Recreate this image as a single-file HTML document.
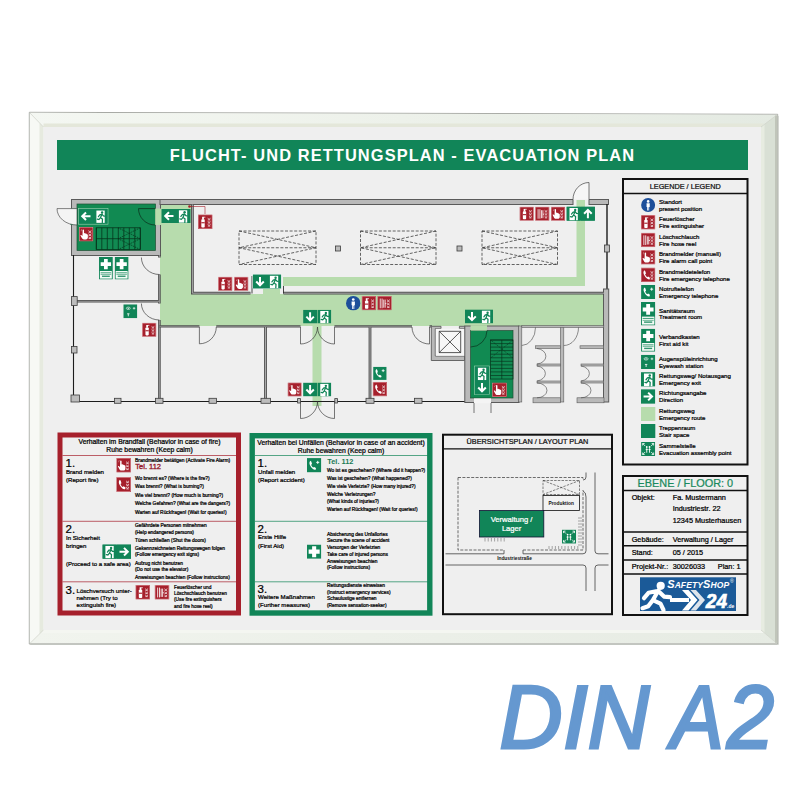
<!DOCTYPE html>
<html><head><meta charset="utf-8"><style>
html,body{margin:0;padding:0;background:#fff;width:800px;height:800px;overflow:hidden}
svg{display:block}
text{font-family:"Liberation Sans",sans-serif}
</style></head><body>
<svg width="800" height="800" viewBox="0 0 800 800">
<defs>
<linearGradient id="gtop" x1="0" y1="0" x2="1" y2="0"><stop offset="0" stop-color="#f4f7f2"/><stop offset="0.5" stop-color="#edf1ea"/><stop offset="1" stop-color="#e4eae2"/></linearGradient>
<linearGradient id="gbot" x1="0" y1="0" x2="1" y2="0"><stop offset="0" stop-color="#f1f4ee"/><stop offset="1" stop-color="#e6ebe3"/></linearGradient>
<symbol id="ext" viewBox="0 0 14 14"><rect width="14" height="14" fill="#a6202c"/><rect x="0.4" y="0.4" width="13.2" height="13.2" fill="none" stroke="#e2a0a6" stroke-width="0.5"/>
<rect x="3.2" y="4.6" width="3.3" height="8" rx="0.8" fill="#fff"/><rect x="3.2" y="7.4" width="3.3" height="1.1" fill="#a6202c"/><rect x="4" y="2.2" width="1.7" height="2.6" fill="#fff"/><path d="M5.5 2.6h1.6" stroke="#fff" stroke-width="0.7"/>
<path d="M9.3 3.6l1.4 1 1.4-1M9.3 6.6l1.4 1 1.4-1M9.3 9.6l1.4 1 1.4-1M9.5 5.2h2.4M9.5 8.2h2.4M9.5 11.2h2.4" stroke="#fff" stroke-width="0.65" fill="none"/></symbol>
<symbol id="hose" viewBox="0 0 14 14"><rect width="14" height="14" fill="#a6202c"/><rect x="0.4" y="0.4" width="13.2" height="13.2" fill="none" stroke="#e2a0a6" stroke-width="0.5"/>
<path d="M2.8 2.5v9.5M4.6 2.5v9.5M6.2 3.5v8M7.6 3.5v8M7.6 7.5h1.2" stroke="#fff" stroke-width="0.8"/>
<path d="M9.3 3.6l1.4 1 1.4-1M9.3 6.6l1.4 1 1.4-1M9.3 9.6l1.4 1 1.4-1M9.5 5.2h2.4M9.5 8.2h2.4M9.5 11.2h2.4" stroke="#fff" stroke-width="0.65" fill="none"/></symbol>
<symbol id="alarm" viewBox="0 0 14 14"><rect width="14" height="14" fill="#a6202c"/><rect x="0.4" y="0.4" width="13.2" height="13.2" fill="none" stroke="#e2a0a6" stroke-width="0.5"/>
<path d="M3.6 5.5v-2.4a0.7 0.7 0 0 1 1.4 0v3.5l0.2-0.6c0.6-0.2 1.2 0 1.3 0.5c0.5-0.2 1.1 0 1.2 0.5c0.5-0.1 1 0.2 1 0.7v2.6c0 1-0.8 1.8-1.8 1.8h-2c-1 0-1.6-0.6-2-1.3l-1.3-2.4c-0.3-0.5 0.4-1 0.9-0.5l0.9 0.9z" fill="#fff"/>
<path d="M2.4 2.2l0.6 0.6M1.9 3.6h0.8" stroke="#fff" stroke-width="0.5"/>
<path d="M9.3 3.6l1.4 1 1.4-1M9.3 6.6l1.4 1 1.4-1M9.3 9.6l1.4 1 1.4-1M9.5 5.2h2.4M9.5 8.2h2.4M9.5 11.2h2.4" stroke="#fff" stroke-width="0.65" fill="none"/></symbol>
<symbol id="fphone" viewBox="0 0 14 14"><rect width="14" height="14" fill="#a6202c"/><rect x="0.4" y="0.4" width="13.2" height="13.2" fill="none" stroke="#e2a0a6" stroke-width="0.5"/>
<path d="M3.5 2.5c-1.5 1-1.5 3 0 5.5s3.5 4 5 3.3l0.3-1.5-1.8-1.2-1 0.7c-0.8-0.5-1.7-1.8-2-2.8l0.9-0.7-0.6-2.2z" fill="#fff"/>
<path d="M9.3 3.6l1.4 1 1.4-1M9.3 6.6l1.4 1 1.4-1M9.3 9.6l1.4 1 1.4-1M9.5 5.2h2.4M9.5 8.2h2.4M9.5 11.2h2.4" stroke="#fff" stroke-width="0.65" fill="none"/></symbol>
<symbol id="ephone" viewBox="0 0 14 14"><rect width="14" height="14" fill="#118558"/>
<path d="M3.5 2.5c-1.5 1-1.5 3 0 5.5s3.5 4 5 3.3l0.3-1.5-1.8-1.2-1 0.7c-0.8-0.5-1.7-1.8-2-2.8l0.9-0.7-0.6-2.2z" fill="#fff"/>
<path d="M9 4.2h3M10.5 2.7v3" stroke="#fff" stroke-width="0.9"/></symbol>
<symbol id="stand" viewBox="0 0 14 14"><circle cx="7" cy="7" r="7" fill="#1d4f9a"/><circle cx="7" cy="3.4" r="1.3" fill="#fff"/><path d="M5.4 5.3h3.2v3.6h-0.6v3.6h-0.8v-3.2h-0.4v3.2h-0.8v-3.6h-0.6z" fill="#fff"/></symbol>
<symbol id="man" viewBox="0 0 14 14"><rect width="14" height="14" fill="#118558"/><rect x="1.3" y="1.3" width="11.4" height="11.4" fill="#fff"/>
<path d="M3 1.3h9.7v11.4H9.6V8.6H3z" fill="#fff"/><rect x="7.8" y="1.3" width="4.9" height="11.4" fill="#fff"/>
<circle cx="6.2" cy="3.3" r="1.1" fill="#118558"/><path d="M5.2 5l1.8-0.6 1.2 1.6 1.3 0.5M6.3 5l-0.8 2.6 1.6 1.2 0.2 2.6M5.6 7.6l-1.1 1.6-1.5 0.2M5.2 5l-1.3 1.4" stroke="#118558" stroke-width="1" fill="none" stroke-linecap="round"/>
</symbol>
<symbol id="firstaid" viewBox="0 0 14 14"><rect width="14" height="14" fill="#118558"/><path d="M5 1.6h4v3.4h3.4v4h-3.4v3.4h-4v-3.4h-3.4v-4h3.4z" fill="#fff"/></symbol>
<symbol id="firstaid2" viewBox="0 0 14 23"><rect width="14" height="23" fill="#118558"/><path d="M5.1 2h3.8v3.4h3.4v3.8h-3.4v3.4h-3.8v-3.4h-3.4v-3.8h3.4z" fill="#fff"/>
<rect x="0.9" y="14.3" width="12.2" height="7.8" fill="#f4fbf6"/><rect x="1.6" y="15.6" width="10.8" height="1.1" fill="#118558" opacity="0.75"/><rect x="1.6" y="17.6" width="10.8" height="0.5" fill="#118558"/><rect x="3" y="19" width="8" height="1.4" fill="#118558" opacity="0.85"/></symbol>
<symbol id="eyewash" viewBox="0 0 14 14"><rect width="14" height="14" fill="#118558"/><ellipse cx="5" cy="4" rx="2" ry="1.2" fill="none" stroke="#fff" stroke-width="0.6"/><circle cx="5" cy="4" r="0.6" fill="#fff"/><path d="M9.5 4h2.5M10.75 2.75v2.5" stroke="#fff" stroke-width="0.7"/><path d="M5 9.5v2.5M3.8 9.5h2.4" stroke="#fff" stroke-width="0.8"/></symbol>
<symbol id="runner" viewBox="0 0 14 14"><rect width="14" height="14" fill="#118558"/><rect x="2.9" y="1.3" width="8.3" height="12.3" fill="#fff"/>
<circle cx="8.6" cy="3.3" r="1.2" fill="#118558"/><path d="M6.3 5.6l2.2-0.7 1.4 1.8 1.3 0.1M8.4 5.1l-1.4 3.3 2 1.5-0.2 3.6M7 8.4l-1.6 1.9-1.6-0.4M6.3 5.6l-1.4 1.8" stroke="#118558" stroke-width="1.25" fill="none" stroke-linecap="round"/>
</symbol>
<symbol id="arrR" viewBox="0 0 14 14"><rect width="14" height="14" fill="#118558"/><path d="M2.5 7h8M7 3.2l3.8 3.8-3.8 3.8" stroke="#fff" stroke-width="2" fill="none"/></symbol>
<symbol id="arrL" viewBox="0 0 14 14"><rect width="14" height="14" fill="#118558"/><path d="M11.5 7h-8M7 3.2l-3.8 3.8 3.8 3.8" stroke="#fff" stroke-width="2" fill="none"/></symbol>
<symbol id="arrD" viewBox="0 0 14 14"><rect width="14" height="14" fill="#118558"/><path d="M7 2.5v8M3.2 7l3.8 3.8 3.8-3.8" stroke="#fff" stroke-width="2" fill="none"/></symbol>
<symbol id="arrU" viewBox="0 0 14 14"><rect width="14" height="14" fill="#118558"/><path d="M7 11.5v-8M3.2 7l3.8-3.8 3.8 3.8" stroke="#fff" stroke-width="2" fill="none"/></symbol>
<symbol id="assembly" viewBox="0 0 14 14"><rect width="14" height="14" fill="#118558"/>
<path d="M1.5 1.5l2.5 2.5M12.5 1.5l-2.5 2.5M1.5 12.5l2.5-2.5M12.5 12.5l-2.5-2.5" stroke="#fff" stroke-width="0.8"/>
<path d="M1.5 1.5h2M1.5 1.5v2M12.5 1.5h-2M12.5 1.5v2M1.5 12.5h2M1.5 12.5v-2M12.5 12.5h-2M12.5 12.5v-2" stroke="#fff" stroke-width="0.8"/>
<circle cx="5.6" cy="5" r="0.9" fill="#fff"/><circle cx="8.4" cy="5" r="0.9" fill="#fff"/><path d="M5.6 6.2v4.5M8.4 6.2v4.5M4.6 7.5h2M7.4 7.5h2" stroke="#fff" stroke-width="0.9"/></symbol>
</defs>
<rect x="0" y="0" width="800" height="800" fill="#fff"/>
<polygon points="30.3,113.3 779,115.3 779,645 30.3,645" fill="#dfe2dc"/>
<polygon points="29.3,112.3 777.7,114.3 777.7,644 29.3,644" fill="#f3f5f1" stroke="#a7a9a4" stroke-width="1"/>
<polygon points="29.8,112.8 777.2,114.8 761,127 43.5,127" fill="url(#gtop)"/>
<polygon points="43.5,123.5 764,123.5 761,127 43.5,127" fill="#e4e7da"/>
<polygon points="777.2,114.8 777.2,643.5 761,630 761,127" fill="#d9e0d5"/>
<polygon points="761,127 764.5,124 764.5,633 761,630" fill="#e7ece1"/>
<polygon points="29.8,643.5 777,643.5 761,630 43.5,630" fill="url(#gbot)"/>
<polygon points="43.5,630 761,630 764,633 40,633" fill="#f4f6f1"/>
<polygon points="29.8,113 43.5,127 43.5,630 29.8,643.5" fill="#f7f9f5"/>
<polygon points="39.5,123 43.5,127 43.5,630 39.5,634" fill="#e6eadf"/>
<line x1="776" y1="115.5" x2="776" y2="643" stroke="#b5b9ae" stroke-width="1.4"/>
<line x1="30" y1="643.6" x2="777" y2="643.6" stroke="#c0c3bd" stroke-width="1"/>
<path d="M777 114.8 L761 127 M777 643.5 L761 630 M29.8 643.5 L43.5 630 M29.8 112.8 L43.5 127" stroke="#c9cdc3" stroke-width="0.6" fill="none"/>
<rect x="43.5" y="127" width="717.5" height="503" fill="#efefef"/>
<rect x="57" y="140" width="691" height="30" fill="#118558"/>
<text x="402.5" y="160.6" font-size="16.4" fill="#fff" text-anchor="middle" font-weight="bold" letter-spacing="1.1">FLUCHT- UND RETTUNGSPLAN - EVACUATION PLAN</text>
<rect x="160" y="204" width="32" height="122" fill="#b7dcad"/>
<rect x="160" y="294" width="444" height="32" fill="#b7dcad"/>
<rect x="283" y="277" width="302" height="9" fill="#b7dcad"/>
<rect x="576.5" y="200" width="8.5" height="86" fill="#b7dcad"/>
<rect x="312.5" y="326" width="9" height="80" fill="#b7dcad"/>
<rect x="263" y="289" width="17" height="6" fill="#b7dcad"/>
<rect x="470.5" y="324" width="16.5" height="8" fill="#b7dcad"/>
<rect x="71.5" y="199.5" width="89" height="56" fill="#b9b9b9" stroke="#5a5a5a" stroke-width="1"/>
<rect x="77" y="204" width="78.5" height="46.5" fill="#118a52" stroke="#1f4f33" stroke-width="0.7"/>
<rect x="70.5" y="208.6" width="7" height="16.4" fill="#118a52"/>
<rect x="155.2" y="208.6" width="6" height="16.4" fill="#b7dcad"/>
<g stroke="#06301a" stroke-width="0.75" fill="none">
<rect x="96.3" y="227.8" width="44" height="21.8"/><line x1="96.3" y1="238.7" x2="140.3" y2="238.7"/>
<line x1="96.3" y1="227.8" x2="96.3" y2="249.6"/>
<line x1="101.8" y1="227.8" x2="101.8" y2="249.6"/>
<line x1="107.3" y1="227.8" x2="107.3" y2="249.6"/>
<line x1="112.8" y1="227.8" x2="112.8" y2="249.6"/>
<line x1="118.3" y1="227.8" x2="118.3" y2="249.6"/>
<line x1="123.8" y1="227.8" x2="123.8" y2="249.6"/>
<line x1="129.3" y1="227.8" x2="129.3" y2="249.6"/>
<line x1="134.8" y1="227.8" x2="134.8" y2="249.6"/>
<line x1="140.3" y1="227.8" x2="140.3" y2="249.6"/>
<path d="M118 227.8l22.3 10.9M118 238.7l22.3 10.9M118 238.7l22.3-10.9M118 249.6l22.3-10.9" stroke-dasharray="1.2 0.9"/>
</g>
<rect x="78.4" y="208.4" width="29.6" height="15.8" fill="#118558" stroke="#9fd3b3" stroke-width="0.6"/>
<use href="#arrL" x="79" y="209" width="14" height="14.5"/>
<use href="#runner" x="93.5" y="209" width="14" height="14.5"/>
<use href="#alarm" x="78.7" y="227" width="14.8" height="14.4"/>
<path d="M77 208.6 L57 208.6 A20 16.4 0 0 0 77 225 Z" fill="#f4f4f4" stroke="#333" stroke-width="0.6"/>
<path d="M155.2 208.6 H138.5 A16.7 16.4 0 0 0 155.2 225" fill="none" stroke="#0a2a18" stroke-width="0.7"/>
<rect x="160" y="199.5" width="413" height="5" fill="#b9b9b9" stroke="#5a5a5a" stroke-width="1"/>
<rect x="589" y="199.5" width="19.5" height="5" fill="#b9b9b9" stroke="#5a5a5a" stroke-width="1"/>
<path d="M573 199.5 A16 17 0 0 1 589 182.5 L589 199.5" fill="#f6f6f6" stroke="#444" stroke-width="0.7"/>
<path d="M607 204 V290" fill="none" stroke="#1c1c1c" stroke-width="1.4"/>
<rect x="604.5" y="245" width="5" height="7" fill="#bcbcbc" stroke="#3c3c3c" stroke-width="0.8"/>
<rect x="603.5" y="289" width="5.2" height="113" fill="#b9b9b9" stroke="#5a5a5a" stroke-width="1"/>
<path d="M192.4 204.5 V293.2 H250.5 M283.5 293.2 H604" fill="none" stroke="#4e4e4e" stroke-width="2.8"/>
<path d="M192.4 204.5 V293.2 H250.5 M283.5 293.2 H604" fill="none" stroke="#a9a9a9" stroke-width="0.9999999999999998"/>
<path d="M252 276 V293.5 M283.5 286 V293.5" fill="none" stroke="#1c1c1c" stroke-width="0.8"/>
<g stroke="#333" stroke-width="0.75" stroke-dasharray="3 1.6" fill="none"><rect x="239" y="231" width="77" height="33.5"/><line x1="239" y1="247.75" x2="316" y2="247.75"/><path d="M239 231 L316 247.75 L239 264.5 M316 231 L239 247.75 L316 264.5"/></g>
<g stroke="#333" stroke-width="0.75" stroke-dasharray="3 1.6" fill="none"><rect x="360.5" y="231" width="75.5" height="33.5"/><line x1="360.5" y1="247.75" x2="436" y2="247.75"/><path d="M360.5 231 L436 247.75 L360.5 264.5 M436 231 L360.5 247.75 L436 264.5"/></g>
<g stroke="#333" stroke-width="0.75" stroke-dasharray="3 1.6" fill="none"><rect x="482" y="231" width="75.5" height="33.5"/><line x1="482" y1="247.75" x2="557.5" y2="247.75"/><path d="M482 231 L557.5 247.75 L482 264.5 M557.5 231 L482 247.75 L557.5 264.5"/></g>
<rect x="335.5" y="246" width="5" height="5" fill="#bcbcbc" stroke="#3c3c3c" stroke-width="0.8"/>
<rect x="457.0" y="246" width="5" height="5" fill="#bcbcbc" stroke="#3c3c3c" stroke-width="0.8"/>
<path d="M73.5 255 V401.5 H470" fill="none" stroke="#1c1c1c" stroke-width="1.1"/>
<path d="M159.4 255 V257.5 M159.4 274.5 V303.5 M159.4 320 V401 M75 301.3 H159.4" fill="none" stroke="#4e4e4e" stroke-width="2.6"/>
<path d="M159.4 255 V257.5 M159.4 274.5 V303.5 M159.4 320 V401 M75 301.3 H159.4" fill="none" stroke="#a9a9a9" stroke-width="0.8"/>
<path d="M141.4 257.5 A18 17 0 0 0 159.4 274.5 M141.4 303.5 A18 16.5 0 0 0 159.4 320" fill="none" stroke="#333" stroke-width="0.65"/>
<path d="M159.4 326.4 H199.4 M216.3 326.4 H300.5 M334.5 326.4 H412 M429.5 326.4 H432" fill="none" stroke="#4e4e4e" stroke-width="2.4"/>
<path d="M159.4 326.4 H199.4 M216.3 326.4 H300.5 M334.5 326.4 H412 M429.5 326.4 H432" fill="none" stroke="#a9a9a9" stroke-width="0.5999999999999999"/>
<path d="M265.5 327 V400 M370 327 V400" fill="none" stroke="#4e4e4e" stroke-width="2.8"/>
<path d="M265.5 327 V400 M370 327 V400" fill="none" stroke="#a9a9a9" stroke-width="0.9999999999999998"/>
<path d="M199.4 327 V343.8 A16.9 16.8 0 0 0 216.3 327" fill="none" stroke="#333" stroke-width="0.65"/>
<path d="M300.5 327 V344 A17 17 0 0 0 317.5 327 M334.5 327 V344 A17 17 0 0 1 317.5 327" fill="none" stroke="#333" stroke-width="0.65"/>
<path d="M300.5 401.5 V418.5 A17 17 0 0 0 317.5 401.5 M334.5 401.5 V418.5 A17 17 0 0 1 317.5 401.5" fill="none" stroke="#333" stroke-width="0.65"/>
<path d="M412 327 A17.5 17 0 0 0 429.5 344 V327" fill="none" stroke="#333" stroke-width="0.65"/>
<rect x="71.4" y="296.6" width="5.8" height="8.8" fill="#bcbcbc" stroke="#3c3c3c" stroke-width="0.8"/>
<rect x="71.4" y="346.5" width="5.6" height="6.5" fill="#bcbcbc" stroke="#3c3c3c" stroke-width="0.8"/>
<rect x="71" y="395" width="8.5" height="7" fill="#bcbcbc" stroke="#3c3c3c" stroke-width="0.8"/>
<rect x="114.5" y="398.3" width="6.5" height="5" fill="#bcbcbc" stroke="#3c3c3c" stroke-width="0.8"/>
<rect x="155.5" y="398.3" width="7.5" height="5" fill="#bcbcbc" stroke="#3c3c3c" stroke-width="0.8"/>
<rect x="261" y="398.3" width="9.5" height="5" fill="#bcbcbc" stroke="#3c3c3c" stroke-width="0.8"/>
<rect x="209" y="398.3" width="7.5" height="5" fill="#bcbcbc" stroke="#3c3c3c" stroke-width="0.8"/>
<rect x="297.6" y="398.6" width="2.8" height="4.4" fill="#bcbcbc" stroke="#3c3c3c" stroke-width="0.8"/>
<rect x="334.8" y="398.6" width="2.8" height="4.4" fill="#bcbcbc" stroke="#3c3c3c" stroke-width="0.8"/>
<rect x="366" y="398.3" width="8" height="5" fill="#bcbcbc" stroke="#3c3c3c" stroke-width="0.8"/>
<rect x="414.5" y="398.3" width="7.5" height="5" fill="#bcbcbc" stroke="#3c3c3c" stroke-width="0.8"/>
<path d="M431.3 326.3 H441 V328.6 H435.3 V356 H464.5 V360.5 H431.3 Z" fill="#b9b9b9" stroke="#5a5a5a" stroke-width="0.9"/>
<path d="M459.4 326.3 H465 V328.6 H459.4 Z" fill="#b9b9b9" stroke="#5a5a5a" stroke-width="0.9"/>
<rect x="435.8" y="328.8" width="28.6" height="27" fill="#f7f7f7"/>
<path d="M439.2 331.3 H460.7 V352.6 H439.2 Z M439.2 331.3 L460.7 352.6 M460.7 331.3 L439.2 352.6" fill="none" stroke="#222" stroke-width="0.75"/>
<rect x="464.8" y="326" width="54.2" height="76.5" fill="#b9b9b9" stroke="#5a5a5a" stroke-width="1"/>
<rect x="470.6" y="330.6" width="42.4" height="67.4" fill="#118a52" stroke="#1f4f33" stroke-width="0.7"/>
<rect x="470.6" y="325.2" width="16.4" height="5.4" fill="#b7dcad"/>
<rect x="474" y="398.4" width="17" height="4.8" fill="#f4f4f4"/>
<path d="M487 330.6 A16.4 16.4 0 0 1 470.6 347" fill="none" stroke="#0a2a18" stroke-width="0.65"/>
<g stroke="#06301a" stroke-width="0.65" fill="none">
<rect x="490.6" y="340" width="22.4" height="39"/><line x1="501.8" y1="340" x2="501.8" y2="379"/>
<line x1="490.6" y1="340.0" x2="513" y2="340.0"/>
<line x1="490.6" y1="343.6" x2="513" y2="343.6"/>
<line x1="490.6" y1="347.1" x2="513" y2="347.1"/>
<line x1="490.6" y1="350.6" x2="513" y2="350.6"/>
<line x1="490.6" y1="354.2" x2="513" y2="354.2"/>
<line x1="490.6" y1="357.8" x2="513" y2="357.8"/>
<line x1="490.6" y1="361.3" x2="513" y2="361.3"/>
<line x1="490.6" y1="364.9" x2="513" y2="364.9"/>
<line x1="490.6" y1="368.4" x2="513" y2="368.4"/>
<line x1="490.6" y1="371.9" x2="513" y2="371.9"/>
<line x1="490.6" y1="375.5" x2="513" y2="375.5"/>
<path d="M490.6 340 L513 358 M513 340 L490.6 358" stroke-dasharray="1.2 0.9"/>
</g>
<rect x="474.6" y="366" width="14.8" height="28.6" fill="#118558" stroke="#9fd3b3" stroke-width="0.6"/>
<use href="#runner" x="475" y="366.5" width="14" height="14"/>
<use href="#arrD" x="475" y="380.5" width="14" height="14"/>
<use href="#alarm" x="492" y="382.6" width="15" height="14.4"/>
<path d="M474 403 V413 M491 403 V413" fill="none" stroke="#333" stroke-width="0.65"/>
<g fill="#b9b9b9" stroke="#5a5a5a" stroke-width="0.6">
<rect x="518.6" y="326" width="3.2" height="76"/>
<rect x="560.4" y="326" width="3.4" height="76"/>
<rect x="535.5" y="345.8" width="25" height="2.6"/><rect x="580" y="345.8" width="23.5" height="2.6"/>
<rect x="537" y="364" width="23.4" height="2"/><rect x="537" y="381" width="23.4" height="2"/>
<rect x="581" y="364" width="22.5" height="2"/><rect x="581" y="381" width="22.5" height="2"/>
<rect x="533" y="397.8" width="27.5" height="5"/><rect x="577" y="397.8" width="27" height="5"/>
<rect x="521.8" y="325.6" width="82" height="1.8"/>
</g>
<g fill="none" stroke="#444" stroke-width="0.6">
<path d="M535.5 327.5 A14 18 0 0 1 521.8 345.5 M578.5 327.5 A14.5 18 0 0 1 563.8 345.5"/>
<path d="M537 348.5 A10 7.8 0 0 1 537 364 M537 366 A10 7.6 0 0 1 537 381 M537 383 A10 7.4 0 0 1 537 397.8"/>
<path d="M581 366 A10 7.6 0 0 1 581 381 M581 383 A10 7.4 0 0 1 581 397.8"/>
</g>
<rect x="161.5" y="209" width="29" height="14" fill="#118558"/>
<use href="#arrL" x="162" y="209" width="14" height="14"/>
<use href="#runner" x="176" y="209" width="14" height="14"/>
<path d="M189.5 206.5 H205 V214" fill="none" stroke="#a6202c" stroke-width="0.6"/><circle cx="189.5" cy="206.5" r="1.3" fill="#a6202c"/>
<use href="#ext" x="198" y="214.5" width="14.5" height="14.5"/>
<use href="#ext" x="218" y="276.8" width="14.5" height="14"/>
<use href="#alarm" x="234" y="276.8" width="14.5" height="14"/>
<rect x="252.8" y="274.5" width="28.4" height="14" fill="#118558" stroke="#fff" stroke-width="0.4"/>
<use href="#arrD" x="253" y="274.5" width="14" height="14"/>
<use href="#runner" x="267" y="274.5" width="14" height="14"/>
<use href="#firstaid2" x="98.75" y="257" width="14.25" height="22.5"/>
<use href="#firstaid2" x="114.5" y="257" width="14.25" height="22.5"/>
<use href="#eyewash" x="123.3" y="304.3" width="14" height="14"/>
<use href="#ext" x="142" y="322.8" width="14.5" height="14"/>
<use href="#stand" x="346" y="296" width="14.5" height="14.5"/>
<use href="#ext" x="361.7" y="296" width="14.3" height="14.3"/>
<use href="#hose" x="377.4" y="296" width="14.3" height="14.3"/>
<use href="#arrD" x="303" y="309.7" width="14.2" height="13.8"/>
<use href="#runner" x="317.2" y="309.7" width="14.2" height="13.8"/>
<use href="#arrD" x="465" y="309.4" width="14" height="14"/>
<use href="#runner" x="479" y="309.4" width="14" height="14"/>
<use href="#alarm" x="287.5" y="382.6" width="14.2" height="13.8"/>
<use href="#arrD" x="303" y="382.6" width="14.2" height="13.8"/>
<use href="#runner" x="317.2" y="382.6" width="14.2" height="13.8"/>
<use href="#ephone" x="372.7" y="366.7" width="14.3" height="13.2"/>
<use href="#fphone" x="372.7" y="381.8" width="14.3" height="14.6"/>
<use href="#ext" x="519.4" y="206.7" width="14.5" height="14"/>
<use href="#hose" x="535" y="206.7" width="14.6" height="14"/>
<use href="#alarm" x="550.8" y="206.7" width="14.5" height="14"/>
<rect x="566.6" y="206.7" width="28.3" height="14" fill="#118558"/>
<use href="#runner" x="566.6" y="206.7" width="14" height="14"/>
<use href="#arrU" x="580.9" y="206.7" width="14" height="14"/>
<rect x="623" y="179" width="124.5" height="285.5" fill="#efefef" stroke="#111" stroke-width="2"/>
<line x1="623" y1="193.5" x2="747.5" y2="193.5" stroke="#111" stroke-width="1.3"/>
<text x="685.2" y="189.3" font-size="7.3" fill="#111" text-anchor="middle" font-weight="normal" stroke="#111" stroke-width="0.24" >LEGENDE / LEGEND</text>
<use href="#stand" x="641" y="198" width="14.3" height="14"/>
<text x="659" y="203.8" font-size="6.1" fill="#000" text-anchor="start" font-weight="normal" stroke="#000" stroke-width="0.24" >Standort</text>
<text x="659" y="210.6" font-size="6.1" fill="#000" text-anchor="start" font-weight="normal" stroke="#000" stroke-width="0.24" >present position</text>
<use href="#ext" x="641" y="215" width="14.3" height="14.5"/>
<text x="659" y="221.1" font-size="6.1" fill="#000" text-anchor="start" font-weight="normal" stroke="#000" stroke-width="0.24" >Feuerlöscher</text>
<text x="659" y="227.8" font-size="6.1" fill="#000" text-anchor="start" font-weight="normal" stroke="#000" stroke-width="0.24" >Fire extinguisher</text>
<use href="#hose" x="641" y="232.7" width="14.3" height="14.5"/>
<text x="659" y="238.8" font-size="6.1" fill="#000" text-anchor="start" font-weight="normal" stroke="#000" stroke-width="0.24" >Löschschlauch</text>
<text x="659" y="245.5" font-size="6.1" fill="#000" text-anchor="start" font-weight="normal" stroke="#000" stroke-width="0.24" >Fire hose reel</text>
<use href="#alarm" x="641" y="250" width="14.3" height="14.5"/>
<text x="659" y="256.1" font-size="6.1" fill="#000" text-anchor="start" font-weight="normal" stroke="#000" stroke-width="0.24" >Brandmelder (manuell)</text>
<text x="659" y="262.9" font-size="6.1" fill="#000" text-anchor="start" font-weight="normal" stroke="#000" stroke-width="0.24" >Fire alarm call point</text>
<use href="#fphone" x="641" y="267.6" width="14.3" height="14.5"/>
<text x="659" y="273.7" font-size="6.1" fill="#000" text-anchor="start" font-weight="normal" stroke="#000" stroke-width="0.24" >Brandmeldetelefon</text>
<text x="659" y="280.5" font-size="6.1" fill="#000" text-anchor="start" font-weight="normal" stroke="#000" stroke-width="0.24" >Fire emergency telephone</text>
<use href="#ephone" x="641" y="285" width="14.3" height="14"/>
<text x="659" y="290.8" font-size="6.1" fill="#000" text-anchor="start" font-weight="normal" stroke="#000" stroke-width="0.24" >Notruftelefon</text>
<text x="659" y="297.6" font-size="6.1" fill="#000" text-anchor="start" font-weight="normal" stroke="#000" stroke-width="0.24" >Emergency telephone</text>
<use href="#firstaid2" x="641" y="302" width="14.3" height="23.5"/>
<text x="659" y="312.6" font-size="6.1" fill="#000" text-anchor="start" font-weight="normal" stroke="#000" stroke-width="0.24" >Sanitätsraum</text>
<text x="659" y="319.4" font-size="6.1" fill="#000" text-anchor="start" font-weight="normal" stroke="#000" stroke-width="0.24" >Treatment room</text>
<use href="#firstaid2" x="641" y="328.7" width="14.3" height="23"/>
<text x="659" y="339.0" font-size="6.1" fill="#000" text-anchor="start" font-weight="normal" stroke="#000" stroke-width="0.24" >Verbandkasten</text>
<text x="659" y="345.8" font-size="6.1" fill="#000" text-anchor="start" font-weight="normal" stroke="#000" stroke-width="0.24" >First aid kit</text>
<use href="#eyewash" x="641" y="354.8" width="14.3" height="14.2"/>
<text x="659" y="360.7" font-size="6.1" fill="#000" text-anchor="start" font-weight="normal" stroke="#000" stroke-width="0.24" >Augenspüleinrichtung</text>
<text x="659" y="367.5" font-size="6.1" fill="#000" text-anchor="start" font-weight="normal" stroke="#000" stroke-width="0.24" >Eyewash station</text>
<use href="#runner" x="641" y="372" width="14.3" height="14.7"/>
<text x="659" y="378.2" font-size="6.1" fill="#000" text-anchor="start" font-weight="normal" stroke="#000" stroke-width="0.24" >Rettungsweg/ Notausgang</text>
<text x="659" y="385.0" font-size="6.1" fill="#000" text-anchor="start" font-weight="normal" stroke="#000" stroke-width="0.24" >Emergency exit</text>
<use href="#arrR" x="641" y="389" width="14.3" height="15"/>
<text x="659" y="395.3" font-size="6.1" fill="#000" text-anchor="start" font-weight="normal" stroke="#000" stroke-width="0.24" >Richtungsangabe</text>
<text x="659" y="402.1" font-size="6.1" fill="#000" text-anchor="start" font-weight="normal" stroke="#000" stroke-width="0.24" >Direction</text>
<rect x="641" y="407" width="14.3" height="14" fill="#b7dcad"/>
<text x="659" y="412.8" font-size="6.1" fill="#000" text-anchor="start" font-weight="normal" stroke="#000" stroke-width="0.24" >Rettungsweg</text>
<text x="659" y="419.6" font-size="6.1" fill="#000" text-anchor="start" font-weight="normal" stroke="#000" stroke-width="0.24" >Emergency route</text>
<rect x="641" y="424" width="14.3" height="14" fill="#118558"/>
<text x="659" y="429.8" font-size="6.1" fill="#000" text-anchor="start" font-weight="normal" stroke="#000" stroke-width="0.24" >Treppenraum</text>
<text x="659" y="436.6" font-size="6.1" fill="#000" text-anchor="start" font-weight="normal" stroke="#000" stroke-width="0.24" >Stair space</text>
<use href="#assembly" x="641" y="442" width="14.3" height="14"/>
<text x="659" y="447.8" font-size="6.1" fill="#000" text-anchor="start" font-weight="normal" stroke="#000" stroke-width="0.24" >Sammelstelle</text>
<text x="659" y="454.6" font-size="6.1" fill="#000" text-anchor="start" font-weight="normal" stroke="#000" stroke-width="0.24" >Evacuation assembly point</text>
<rect x="623" y="476" width="124.5" height="139" fill="#efefef" stroke="#111" stroke-width="2"/>
<line x1="623" y1="490.5" x2="747.5" y2="490.5" stroke="#111" stroke-width="1.6"/>
<line x1="623" y1="532" x2="747.5" y2="532" stroke="#111" stroke-width="1.6"/>
<line x1="623" y1="545.7" x2="747.5" y2="545.7" stroke="#111" stroke-width="1.6"/>
<line x1="623" y1="560" x2="747.5" y2="560" stroke="#111" stroke-width="1.6"/>
<line x1="623" y1="574" x2="747.5" y2="574" stroke="#111" stroke-width="1.6"/>
<text x="685.3" y="486.7" font-size="10.9" fill="#1b8a5e" text-anchor="middle" font-weight="normal" stroke="#1b8a5e" stroke-width="0.24" >EBENE / FLOOR: 0</text>
<text x="631.7" y="499.6" font-size="7.3" fill="#000" text-anchor="start" font-weight="normal" stroke="#000" stroke-width="0.24" >Objekt:</text>
<text x="672.7" y="499.6" font-size="7.3" fill="#000" text-anchor="start" font-weight="normal" stroke="#000" stroke-width="0.24" >Fa. Mustermann</text>
<text x="672.7" y="511.4" font-size="7.3" fill="#000" text-anchor="start" font-weight="normal" stroke="#000" stroke-width="0.24" >Industriestr. 22</text>
<text x="672.7" y="523.4" font-size="7.3" fill="#000" text-anchor="start" font-weight="normal" stroke="#000" stroke-width="0.24" >12345 Musterhausen</text>
<text x="631.7" y="541.5" font-size="7.3" fill="#000" text-anchor="start" font-weight="normal" stroke="#000" stroke-width="0.24" >Gebäude:</text>
<text x="672.7" y="541.5" font-size="7.3" fill="#000" text-anchor="start" font-weight="normal" stroke="#000" stroke-width="0.24" >Verwaltung / Lager</text>
<text x="631.7" y="555.3" font-size="7.3" fill="#000" text-anchor="start" font-weight="normal" stroke="#000" stroke-width="0.24" >Stand:</text>
<text x="672.7" y="555.3" font-size="7.3" fill="#000" text-anchor="start" font-weight="normal" stroke="#000" stroke-width="0.24" >05 / 2015</text>
<text x="631.7" y="569.3" font-size="7.3" fill="#000" text-anchor="start" font-weight="normal" stroke="#000" stroke-width="0.24" >Projekt-Nr.:</text>
<text x="672.7" y="569.3" font-size="7.3" fill="#000" text-anchor="start" font-weight="normal" stroke="#000" stroke-width="0.24" >30026033</text>
<text x="740.5" y="569.3" font-size="7.3" fill="#000" text-anchor="end" font-weight="normal" stroke="#000" stroke-width="0.24" >Plan: 1</text>
<rect x="640" y="577.3" width="96" height="33.7" fill="#1b5a98"/>
<circle cx="660.7" cy="585.8" r="4.1" fill="#fff"/>
<path d="M658.3 590.5 L652.8 600.2 M657.5 591 L648.5 592.8 L644 598.2 M658.5 591.2 L664 596.6 L670 597.2 M652.8 600.2 L660.5 603.6 L663.5 610 M652.8 600.2 L648.2 606.2 L642.5 608.2" fill="none" stroke="#fff" stroke-width="4.2" stroke-linecap="round" stroke-linejoin="round"/>
<path d="M670 598 H689 V602 H670 Z" fill="#fff"/>
<path d="M682 590 H688.5 L697.5 600 L688.5 610.5 H682 L691 600 Z" fill="#fff"/>
<path d="M690.5 590 H696 L705 600 L696 610.5 H690.5 L699.5 600 Z" fill="#dde4ec"/>
<text x="667.2" y="588.3" font-size="8.5" fill="#fff" font-weight="bold" font-style="italic" letter-spacing="0.1"><tspan font-size="11">S</tspan>AFETY<tspan font-size="11">S</tspan>HOP</text>
<text x="731.8" y="583.3" font-size="5.2" fill="#fff" text-anchor="middle" font-weight="normal" >®</text>
<text x="705.8" y="607.8" font-size="20.5" fill="#fff" stroke="#fff" stroke-width="0.7" font-weight="bold" font-style="italic" textLength="21.2" lengthAdjust="spacingAndGlyphs">24</text>
<text x="727" y="607.8" font-size="5" fill="#fff" text-anchor="start" font-weight="bold" >.de</text>
<rect x="60" y="435" width="178.5" height="178" fill="#efefef" stroke="#a6202c" stroke-width="5"/>
<text x="149.5" y="443.8" font-size="6.8" fill="#000" text-anchor="middle" font-weight="normal" stroke="#000" stroke-width="0.24" >Verhalten im Brandfall (Behavior in case of fire)</text>
<text x="149.5" y="452" font-size="6.8" fill="#000" text-anchor="middle" font-weight="normal" stroke="#000" stroke-width="0.24" >Ruhe bewahren (Keep calm)</text>
<line x1="62.5" y1="455.5" x2="236" y2="455.5" stroke="#a6202c" stroke-width="0.7"/>
<line x1="62.5" y1="521.3" x2="236" y2="521.3" stroke="#a6202c" stroke-width="0.7"/>
<line x1="62.5" y1="581.8" x2="236" y2="581.8" stroke="#a6202c" stroke-width="0.7"/>
<text x="65.5" y="466.8" font-size="11.5" fill="#000" text-anchor="start" font-weight="normal" stroke="#000" stroke-width="0.24" >1.</text>
<text x="66" y="473.8" font-size="6.1" fill="#000" text-anchor="start" font-weight="normal" stroke="#000" stroke-width="0.24" >Brand melden</text>
<text x="66" y="481.9" font-size="6.1" fill="#000" text-anchor="start" font-weight="normal" stroke="#000" stroke-width="0.24" >(Report fire)</text>
<use href="#alarm" x="116.3" y="458" width="14.7" height="14.5"/>
<use href="#fphone" x="116.3" y="477" width="14.7" height="15"/>
<text x="135" y="461.5" font-size="4.9" fill="#000" text-anchor="start" font-weight="normal" stroke="#000" stroke-width="0.24" >Brandmelder betätigen (Activate Fire Alarm)</text>
<text x="135.3" y="469.3" font-size="7.5" fill="#951c2e" text-anchor="start" font-weight="normal" stroke="#951c2e" stroke-width="0.35" >Tel. 112</text>
<text x="135" y="480.0" font-size="4.9" fill="#000" text-anchor="start" font-weight="normal" stroke="#000" stroke-width="0.24" >Wo brennt es? (Where is the fire?)</text>
<text x="135" y="488.2" font-size="4.9" fill="#000" text-anchor="start" font-weight="normal" stroke="#000" stroke-width="0.24" >Was brennt? (What is burning?)</text>
<text x="135" y="496.8" font-size="4.9" fill="#000" text-anchor="start" font-weight="normal" stroke="#000" stroke-width="0.24" >Wie viel brennt? (How much is burning?)</text>
<text x="135" y="505.4" font-size="4.9" fill="#000" text-anchor="start" font-weight="normal" stroke="#000" stroke-width="0.24" >Welche Gefahren? (What are the dangers?)</text>
<text x="135" y="514.0" font-size="4.9" fill="#000" text-anchor="start" font-weight="normal" stroke="#000" stroke-width="0.24" >Warten auf Rückfragen! (Wait for queries!)</text>
<text x="65.5" y="533" font-size="11.5" fill="#000" text-anchor="start" font-weight="normal" stroke="#000" stroke-width="0.24" >2.</text>
<text x="66" y="540" font-size="6.1" fill="#000" text-anchor="start" font-weight="normal" stroke="#000" stroke-width="0.24" >In Sicherheit</text>
<text x="66" y="548" font-size="6.1" fill="#000" text-anchor="start" font-weight="normal" stroke="#000" stroke-width="0.24" >bringen</text>
<text x="66" y="565.8" font-size="6.0" fill="#000" text-anchor="start" font-weight="normal" stroke="#000" stroke-width="0.24" >(Proceed to a safe area)</text>
<rect x="102.5" y="544.5" width="28.5" height="14.3" fill="#118558"/>
<use href="#runner" x="102.5" y="544.5" width="14" height="14.3"/>
<use href="#arrR" x="117" y="544.5" width="14" height="14.3"/>
<text x="135" y="527.0" font-size="4.85" fill="#000" text-anchor="start" font-weight="normal" stroke="#000" stroke-width="0.24" >Gefährdete Personen mitnehmen</text>
<text x="135" y="533.6" font-size="4.85" fill="#000" text-anchor="start" font-weight="normal" stroke="#000" stroke-width="0.24" >(Help endangered persons)</text>
<text x="135" y="542.0" font-size="4.85" fill="#000" text-anchor="start" font-weight="normal" stroke="#000" stroke-width="0.24" >Türen schließen (Shut the doors)</text>
<text x="135" y="550.0" font-size="4.85" fill="#000" text-anchor="start" font-weight="normal" stroke="#000" stroke-width="0.24" >Gekennzeichneten Rettungswegen folgen</text>
<text x="135" y="556.4" font-size="4.85" fill="#000" text-anchor="start" font-weight="normal" stroke="#000" stroke-width="0.24" >(Follow emergency exit signs)</text>
<text x="135" y="565.0" font-size="4.85" fill="#000" text-anchor="start" font-weight="normal" stroke="#000" stroke-width="0.24" >Aufzug nicht benutzen</text>
<text x="135" y="571.4" font-size="4.85" fill="#000" text-anchor="start" font-weight="normal" stroke="#000" stroke-width="0.24" >(Do not use the elevator)</text>
<text x="135" y="579.0" font-size="4.85" fill="#000" text-anchor="start" font-weight="normal" stroke="#000" stroke-width="0.24" >Anweisungen beachten (Follow instructions)</text>
<text x="65.5" y="594" font-size="11.5" fill="#000" text-anchor="start" font-weight="normal" stroke="#000" stroke-width="0.24" >3.</text>
<text x="76.5" y="593" font-size="6.1" fill="#000" text-anchor="start" font-weight="normal" stroke="#000" stroke-width="0.24" >Löschversuch unter-</text>
<text x="76.5" y="600" font-size="6.1" fill="#000" text-anchor="start" font-weight="normal" stroke="#000" stroke-width="0.24" >nehmen (Try to</text>
<text x="76.5" y="607" font-size="6.1" fill="#000" text-anchor="start" font-weight="normal" stroke="#000" stroke-width="0.24" >extinguish fire)</text>
<use href="#ext" x="135.5" y="585" width="14.5" height="14.5"/>
<use href="#hose" x="154.5" y="585" width="15" height="14.5"/>
<text x="174" y="588.6" font-size="4.8" fill="#000" text-anchor="start" font-weight="normal" stroke="#000" stroke-width="0.24" >Feuerlöscher und</text>
<text x="174" y="595.0" font-size="4.8" fill="#000" text-anchor="start" font-weight="normal" stroke="#000" stroke-width="0.24" >Löschschlauch benutzen</text>
<text x="174" y="601.2" font-size="4.8" fill="#000" text-anchor="start" font-weight="normal" stroke="#000" stroke-width="0.24" >(Use fire extinguishers</text>
<text x="174" y="607.6" font-size="4.8" fill="#000" text-anchor="start" font-weight="normal" stroke="#000" stroke-width="0.24" >and fire hose reel)</text>
<rect x="252.2" y="435.7" width="177.6" height="177.3" fill="#efefef" stroke="#118558" stroke-width="5.4"/>
<text x="341" y="444.5" font-size="6.8" fill="#000" text-anchor="middle" font-weight="normal" stroke="#000" stroke-width="0.24" >Verhalten bei Unfällen (Behavior in case of an accident)</text>
<text x="341" y="452.5" font-size="6.8" fill="#000" text-anchor="middle" font-weight="normal" stroke="#000" stroke-width="0.24" >Ruhe bewahren (Keep calm)</text>
<line x1="255" y1="455.5" x2="428" y2="455.5" stroke="#118558" stroke-width="0.7"/>
<line x1="255" y1="521.3" x2="428" y2="521.3" stroke="#118558" stroke-width="0.7"/>
<line x1="255" y1="581.8" x2="428" y2="581.8" stroke="#118558" stroke-width="0.7"/>
<text x="257.5" y="466.8" font-size="11.5" fill="#000" text-anchor="start" font-weight="normal" stroke="#000" stroke-width="0.24" >1.</text>
<text x="258" y="473.8" font-size="6.1" fill="#000" text-anchor="start" font-weight="normal" stroke="#000" stroke-width="0.24" >Unfall melden</text>
<text x="258" y="482" font-size="6.1" fill="#000" text-anchor="start" font-weight="normal" stroke="#000" stroke-width="0.24" >(Report accident)</text>
<use href="#ephone" x="307" y="458" width="14.3" height="14.5"/>
<text x="327.3" y="464" font-size="7.4" fill="#1b7c56" text-anchor="start" font-weight="bold" >Tel. 112</text>
<text x="327" y="472" font-size="4.85" fill="#000" text-anchor="start" font-weight="normal" stroke="#000" stroke-width="0.24" >Wo ist es geschehen? (Where did it happen?)</text>
<text x="327" y="479.5" font-size="4.85" fill="#000" text-anchor="start" font-weight="normal" stroke="#000" stroke-width="0.24" >Was ist geschehen? (What happened?)</text>
<text x="327" y="487.5" font-size="4.85" fill="#000" text-anchor="start" font-weight="normal" stroke="#000" stroke-width="0.24" >Wie viele Verletzte? (How many injured?)</text>
<text x="327" y="495.8" font-size="4.85" fill="#000" text-anchor="start" font-weight="normal" stroke="#000" stroke-width="0.24" >Welche Verletzungen?</text>
<text x="327" y="502.5" font-size="4.85" fill="#000" text-anchor="start" font-weight="normal" stroke="#000" stroke-width="0.24" >(What kinds of injuries?)</text>
<text x="327" y="510.8" font-size="4.85" fill="#000" text-anchor="start" font-weight="normal" stroke="#000" stroke-width="0.24" >Warten auf Rückfragen! (Wait for queries!)</text>
<text x="257.5" y="533" font-size="11.5" fill="#000" text-anchor="start" font-weight="normal" stroke="#000" stroke-width="0.24" >2.</text>
<text x="258" y="538.8" font-size="6.1" fill="#000" text-anchor="start" font-weight="normal" stroke="#000" stroke-width="0.24" >Erste Hilfe</text>
<text x="258" y="547.5" font-size="6.1" fill="#000" text-anchor="start" font-weight="normal" stroke="#000" stroke-width="0.24" >(First Aid)</text>
<use href="#firstaid" x="307" y="544.5" width="14.3" height="14.3"/>
<text x="327" y="535.5" font-size="4.85" fill="#000" text-anchor="start" font-weight="normal" stroke="#000" stroke-width="0.24" >Absicherung des Unfallortes</text>
<text x="327" y="541.5" font-size="4.85" fill="#000" text-anchor="start" font-weight="normal" stroke="#000" stroke-width="0.24" >Secure the scene of accident</text>
<text x="327" y="549.3" font-size="4.85" fill="#000" text-anchor="start" font-weight="normal" stroke="#000" stroke-width="0.24" >Versorgen der Verletzten</text>
<text x="327" y="555.5" font-size="4.85" fill="#000" text-anchor="start" font-weight="normal" stroke="#000" stroke-width="0.24" >Take care of injured persons</text>
<text x="327" y="563" font-size="4.85" fill="#000" text-anchor="start" font-weight="normal" stroke="#000" stroke-width="0.24" >Anweisungen beachten</text>
<text x="327" y="569" font-size="4.85" fill="#000" text-anchor="start" font-weight="normal" stroke="#000" stroke-width="0.24" >(Follow instructions)</text>
<text x="257.5" y="593.3" font-size="11.5" fill="#000" text-anchor="start" font-weight="normal" stroke="#000" stroke-width="0.24" >3.</text>
<text x="258" y="598.8" font-size="6.1" fill="#000" text-anchor="start" font-weight="normal" stroke="#000" stroke-width="0.24" >Weitere Maßnahmen</text>
<text x="258" y="606.8" font-size="6.1" fill="#000" text-anchor="start" font-weight="normal" stroke="#000" stroke-width="0.24" >(Further measures)</text>
<text x="327" y="587" font-size="4.85" fill="#000" text-anchor="start" font-weight="normal" stroke="#000" stroke-width="0.24" >Rettungsdienste einweisen</text>
<text x="327" y="593.8" font-size="4.85" fill="#000" text-anchor="start" font-weight="normal" stroke="#000" stroke-width="0.24" >(Instruct emergency services)</text>
<text x="327" y="600" font-size="4.85" fill="#000" text-anchor="start" font-weight="normal" stroke="#000" stroke-width="0.24" >Schaulustige entfernen</text>
<text x="327" y="607" font-size="4.85" fill="#000" text-anchor="start" font-weight="normal" stroke="#000" stroke-width="0.24" >(Remove sensation-seeker)</text>
<rect x="443" y="434.7" width="169" height="179.5" fill="#efefef" stroke="#111" stroke-width="2"/>
<line x1="443" y1="448.8" x2="612" y2="448.8" stroke="#111" stroke-width="1.3"/>
<text x="527.5" y="444" font-size="7.3" fill="#111" text-anchor="middle" font-weight="normal" stroke="#111" stroke-width="0.24" >ÜBERSICHTSPLAN / LAYOUT PLAN</text>
<g fill="none" stroke="#333" stroke-width="0.7">
<path d="M458 477.5 H583 V480 M458 477.5 V550 H504 M523 550 H583 V490" stroke-dasharray="3 1.4"/>
<path d="M445.5 553.8 H504 V550 M523 550 V553.8 H583 Q586 553.8 586 550.8 V497 Q586 492 583 491 M583 480 Q586 480 586 477 V472.5 M595 472.5 V551 Q595 553.8 598 553.8 H608.5" stroke="#555" stroke-width="0.9"/>
<path d="M445.5 565 H583 Q586 565 586 568 V591 M595 591 V568 Q595 565 598 565 H608.5" stroke="#555" stroke-width="0.9"/>
</g>
<g stroke="#333" stroke-width="0.6" fill="none" stroke-dasharray="2.5 1.2"><rect x="543" y="480.5" width="36.5" height="14"/><path d="M543 480.5 L579.5 494.5 M579.5 480.5 L543 494.5"/></g>
<rect x="543" y="495.5" width="36.5" height="15" fill="#f2f2f2" stroke="#111" stroke-width="0.8"/>
<text x="561.2" y="505" font-size="4.8" fill="#111" text-anchor="middle" font-weight="bold" >Produktion</text>
<rect x="479.5" y="510.5" width="64.3" height="26.5" fill="#118558" stroke="#113" stroke-width="0.8"/>
<text x="511.6" y="522" font-size="7.6" fill="#fff" text-anchor="middle" font-weight="normal" stroke="#fff" stroke-width="0.24" >Verwaltung /</text>
<text x="511.6" y="530.6" font-size="7.6" fill="#fff" text-anchor="middle" font-weight="normal" stroke="#fff" stroke-width="0.24" >Lager</text>
<use href="#assembly" x="562" y="529.5" width="14" height="14.2"/>
<g stroke="#555" stroke-width="0.5">
<line x1="485.0" y1="538" x2="485.0" y2="541.5"/>
<line x1="488.2" y1="538" x2="488.2" y2="541.5"/>
<line x1="491.4" y1="538" x2="491.4" y2="541.5"/>
<line x1="494.6" y1="538" x2="494.6" y2="541.5"/>
<line x1="497.8" y1="538" x2="497.8" y2="541.5"/>
<line x1="501.0" y1="538" x2="501.0" y2="541.5"/>
<line x1="504.2" y1="538" x2="504.2" y2="541.5"/>
<line x1="549.0" y1="546" x2="549.0" y2="549"/>
<line x1="552.2" y1="546" x2="552.2" y2="549"/>
<line x1="555.4" y1="546" x2="555.4" y2="549"/>
<line x1="558.6" y1="546" x2="558.6" y2="549"/>
<line x1="561.8" y1="546" x2="561.8" y2="549"/>
<line x1="565.0" y1="546" x2="565.0" y2="549"/>
<line x1="568.2" y1="546" x2="568.2" y2="549"/>
<line x1="571.4" y1="546" x2="571.4" y2="549"/>
<line x1="574.6" y1="546" x2="574.6" y2="549"/>
<line x1="577.8" y1="546" x2="577.8" y2="549"/>
<line x1="578" y1="518" x2="582" y2="518"/>
<line x1="578" y1="521" x2="582" y2="521"/>
<line x1="578" y1="524" x2="582" y2="524"/>
<line x1="578" y1="527" x2="582" y2="527"/>
<line x1="578" y1="530" x2="582" y2="530"/>
<line x1="578" y1="533" x2="582" y2="533"/>
<line x1="578" y1="536" x2="582" y2="536"/>
<line x1="578" y1="539" x2="582" y2="539"/>
<line x1="578" y1="542" x2="582" y2="542"/>
<line x1="578" y1="545" x2="582" y2="545"/>
</g>
<text x="514.5" y="560" font-size="4.8" fill="#111" text-anchor="middle" font-weight="bold" >Industriestraße</text>
<text transform="translate(499.52,748) scale(0.98,1)" x="0" y="0" font-size="89" font-style="italic" fill="#6598d0" stroke="#6598d0" stroke-width="3">D</text>
<text transform="translate(563.00,748) scale(1.0,1)" x="0" y="0" font-size="89" font-style="italic" fill="#6598d0" stroke="#6598d0" stroke-width="3">I</text>
<text transform="translate(587.84,748) scale(0.96,1)" x="0" y="0" font-size="89" font-style="italic" fill="#6598d0" stroke="#6598d0" stroke-width="3">N</text>
<text transform="translate(670.91,748) scale(0.885,1)" x="0" y="0" font-size="89" font-style="italic" fill="#6598d0" stroke="#6598d0" stroke-width="3">A</text>
<text transform="translate(726.90,748) scale(0.95,1)" x="0" y="0" font-size="89" font-style="italic" fill="#6598d0" stroke="#6598d0" stroke-width="3">2</text>
</svg>
</body></html>
